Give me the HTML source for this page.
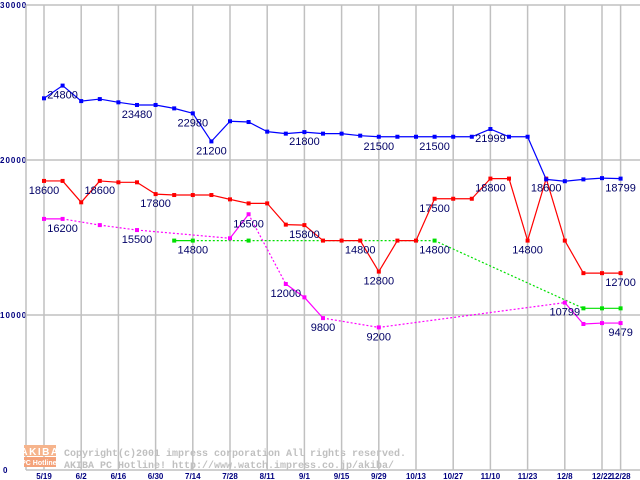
<!DOCTYPE html>
<html><head><meta charset="utf-8"><style>
html,body{margin:0;padding:0;background:#fff;width:640px;height:480px;overflow:hidden}
svg{display:block}
</style></head><body>
<svg id="chart" width="640" height="480" xmlns="http://www.w3.org/2000/svg" font-family="Liberation Sans, sans-serif">
<g id="grid"></g>
<g id="wm">
  <rect x="24" y="445" width="32" height="11" fill="#f6b48c"/>
  <rect x="24" y="457" width="32" height="10" fill="#f4a27a"/>
  <text x="40" y="455" font-size="10" font-weight="bold" fill="#fff" text-anchor="middle" letter-spacing="1.5">AKIBA</text>
  <text x="40" y="465" font-size="7" font-weight="bold" fill="#fff" text-anchor="middle">PC Hotline!</text>
  <text x="64" y="456" font-family="Liberation Mono, monospace" font-size="10" font-weight="bold" fill="#c0c0c0">Copyright(c)2001 impress corporation All rights reserved.</text>
  <text x="64" y="468" font-family="Liberation Mono, monospace" font-size="10" font-weight="bold" fill="#c0c0c0">AKIBA PC Hotline!  http://www.watch.impress.co.jp/akiba/</text>
</g>
<g id="series"></g>
<g id="labels"></g>
</svg>
<script>
const yTicks = [0, 10000, 20000, 30000];
const dateLabels = ["5/19","6/2","6/16","6/30","7/14","7/28","8/11","9/1","9/15","9/29","10/13","10/27","11/10","11/23","12/8","12/22","12/28"];
const dateIndex = [0,2,4,6,8,10,12,14,16,18,20,22,24,26,28,30,31];
const N = 32;
const blueVals = [23980,24800,23800,23930,23720,23550,23550,23330,23010,21200,22500,22450,21830,21700,21800,21700,21700,21570,21500,21500,21500,21500,21500,21500,21999,21500,21500,18750,18630,18750,18830,18799];
const redVals = [18650,18650,17270,18650,18560,18560,17800,17740,17740,17740,17460,17200,17200,15830,15800,14800,14800,14800,12800,14800,14800,17500,17500,17500,18800,18800,14800,18800,14800,12700,12700,12700];
const magentaVals = [16200,16200,null,15800,null,15480,null,null,null,null,14950,16500,null,12000,11140,9800,null,null,9200,null,null,null,null,null,null,null,null,null,10799,9420,9479,9479];
const greenVals = [null,null,null,null,null,null,null,14800,14800,null,null,14800,null,null,null,null,null,null,null,null,null,14800,null,null,null,null,null,null,null,10430,10430,10430];
const labelSeries = ["blue","blue","blue","blue","blue","blue","blue","blue","blue","red","red","red","red","red","red","red","red","red","red","red","green","green","magenta","magenta","magenta","magenta","magenta","magenta","magenta","magenta"];
const labelIdx = [1,5,8,9,14,18,21,24,31,0,3,6,14,17,18,21,24,26,27,31,8,21,1,5,11,13,15,18,28,31];
const labelText = ["24800","23480","22980","21200","21800","21500","21500","21999","18799","18600","18600","17800","15800","14800","12800","17500","18800","14800","18600","12700","14800","14800","16200","15500","16500","12000","9800","9200","10799","9479"];

const NS = "http://www.w3.org/2000/svg";
const X0 = 44, DX = 18.6, PL = 26, PR = 640;
function xs(i){ return X0 + i*DX; }
function ys(v){ return 470 - v*0.0155; }
function mk(tag, attrs, parent){
  const e = document.createElementNS(NS, tag);
  for (const k in attrs) e.setAttribute(k, attrs[k]);
  parent.appendChild(e); return e;
}
const grid = document.getElementById('grid');
yTicks.forEach(t=>{
  const l = mk('line',{x1:PL,x2:PR,y1:ys(t),y2:ys(t),stroke:'#c0c0c0','stroke-width':1.5},grid);
  
  
  const tx = mk('text',{x:t===0?3:0,y:ys(t)+3,'font-size':8,'font-weight':'bold',fill:'#000080','letter-spacing':'1'},grid);
  tx.textContent = t;
  
  
});
const ax = mk('line',{x1:PL,x2:PL,y1:5,y2:470,stroke:'#c0c0c0','stroke-width':1.5},grid);


dateLabels.forEach((d,k)=>{
  const x = xs(dateIndex[k]);
  const l = mk('line',{x1:x,x2:x,y1:5,y2:470,stroke:'#c0c0c0','stroke-width':1.5},grid);
  
  
  const tx = mk('text',{x:x,y:479,'font-size':8,'font-weight':'bold',fill:'#000080','text-anchor':'middle'},grid);
  tx.textContent = d;
  
  
});
const sg = document.getElementById('series');
const colors = {green:'#00e000',magenta:'#ff00ff',red:'#ff0000',blue:'#0000ff'};
const data = {green:greenVals,magenta:magentaVals,red:redVals,blue:blueVals};
['green','magenta','red','blue'].forEach(name=>{
  const vals = data[name], c = colors[name];
  let prev = -1;
  for (let i=0;i<N;i++){
    if (vals[i]==null) continue;
    if (prev>=0){
      const a = {x1:xs(prev),y1:ys(vals[prev]),x2:xs(i),y2:ys(vals[i]),stroke:c,'stroke-width':1.2};
      if (i-prev>1) a['stroke-dasharray']='2,2';
      const l = mk('line',a,sg);
      
      
    }
    prev = i;
  }
  for (let i=0;i<N;i++){
    if (vals[i]==null) continue;
    const r = mk('rect',{x:xs(i)-2,y:ys(vals[i])-2,width:4,height:4,fill:c},sg);
    
    
  }
});
const lg = document.getElementById('labels');
labelText.forEach((t,k)=>{
  const v = data[labelSeries[k]][labelIdx[k]];
  if (v==null) return;
  const tx = mk('text',{x:xs(labelIdx[k]),y:ys(v)+13,'font-size':11,fill:'#000066','text-anchor':'middle'},lg);
  tx.textContent = t;
  
  
});
</script>
</body></html>
